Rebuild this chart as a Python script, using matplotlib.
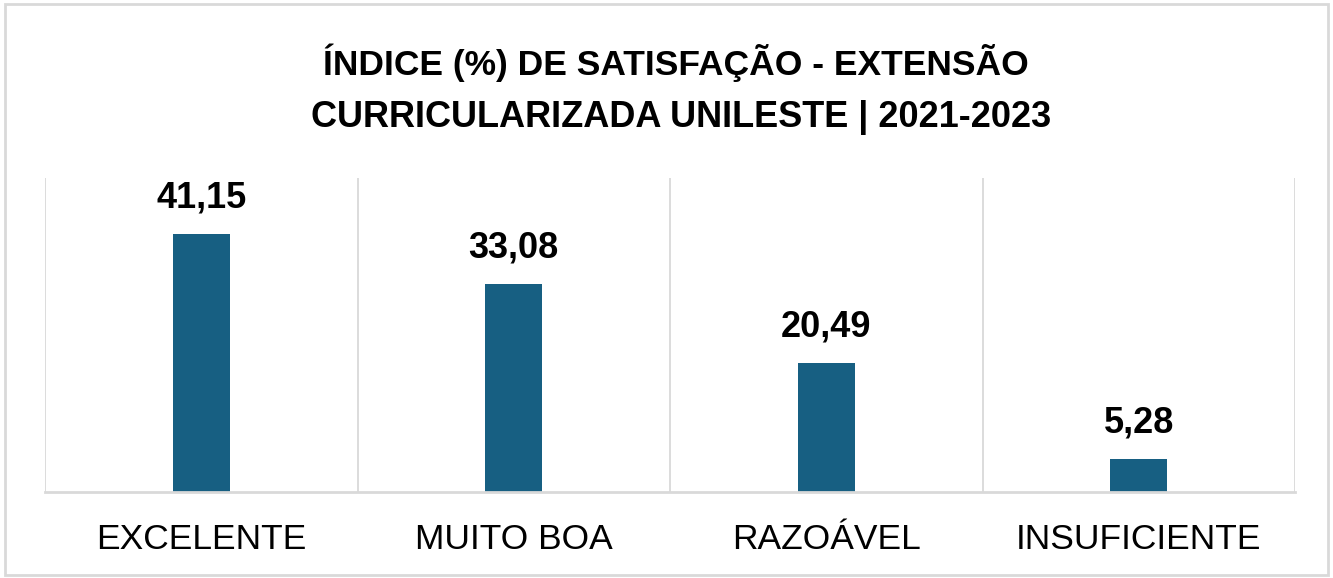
import matplotlib.pyplot as plt
from matplotlib.patches import Rectangle

plt.rcParams['font.family'] = ['Liberation Sans', 'DejaVu Sans']

categorias = ['EXCELENTE', 'MUITO BOA', 'RAZOÁVEL', 'INSUFICIENTE']
valores = [41.15, 33.08, 20.49, 5.28]
rotulos = ['41,15', '33,08', '20,49', '5,28']

cor_barra = '#175f82'
cinza = '#d9d9d9'

fig = plt.figure(figsize=(13.33, 5.78), dpi=100)
ax = fig.add_axes([0.0338, 0.1488, 0.9377, 0.5432])

x = list(range(len(categorias)))
bars = ax.bar(x, valores, width=0.183, color=cor_barra, zorder=3)

# linhas verticais entre categorias
for b in [i - 0.5 for i in range(len(categorias) + 1)]:
    ax.axvline(b, color=cinza, lw=1.3, zorder=1)

for bar, txt in zip(bars, rotulos):
    ax.annotate(txt, (bar.get_x() + bar.get_width() / 2, bar.get_height()),
                xytext=(0, 19), textcoords='offset points',
                ha='center', va='baseline', fontsize=26, fontweight='bold')

ax.set_xlim(-0.5, len(categorias) - 0.5)
ax.set_ylim(0, 50)
ax.set_xticks(x)
ax.set_xticklabels(categorias, fontsize=25.5)
ax.tick_params(axis='x', length=0, pad=22)
ax.set_yticks([])
for s in ['top', 'left', 'right']:
    ax.spines[s].set_visible(False)
ax.spines['bottom'].set_color(cinza)
ax.spines['bottom'].set_linewidth(2)
ax.spines['bottom'].set_zorder(4)

fig.text(0.507, 0.891, 'ÍNDICE (%) DE SATISFAÇÃO - EXTENSÃO',
         ha='center', va='center', fontsize=25.5, fontweight='bold')
fig.text(0.511, 0.797, 'CURRICULARIZADA UNILESTE | 2021-2023',
         ha='center', va='center', fontsize=26, fontweight='bold')

fig.patches.append(Rectangle((0.004, 0.005), 0.992, 0.988, transform=fig.transFigure,
                             fill=False, edgecolor=cinza, lw=2))

fig.savefig('out.png', dpi=100, facecolor='white')
